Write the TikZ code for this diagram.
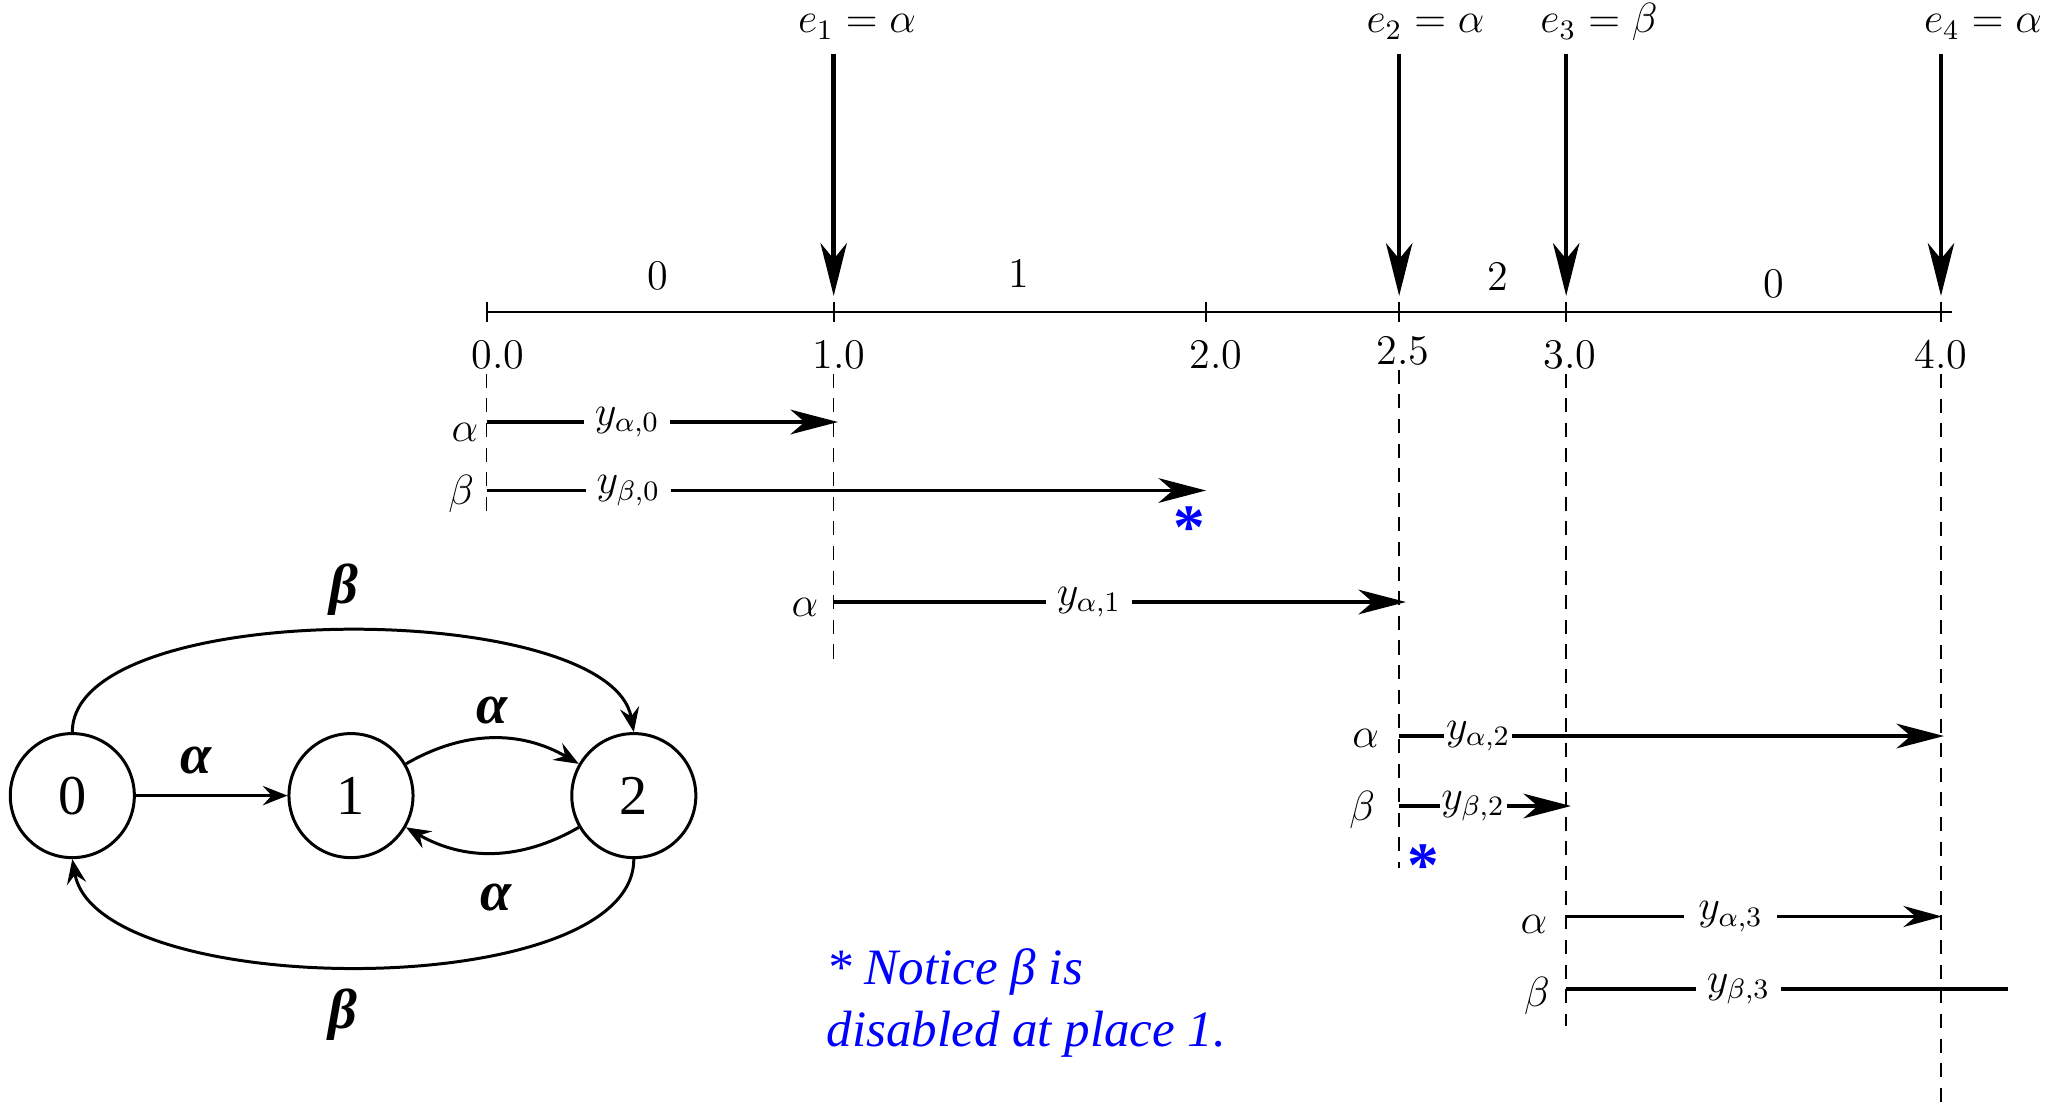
\documentclass[tikz,border=0pt]{standalone}
\usepackage{amsmath,amssymb}
\usepackage{fontspec}
\newfontfamily\timesfont{Liberation Serif}
\usetikzlibrary{arrows.meta,positioning,calc}

\begin{document}
\begin{tikzpicture}[
    x=0.01cm, y=0.01cm,
    lbl/.style={font=\fontsize{12}{14}\selectfont, inner sep=1pt},
    evlbl/.style={lbl, text height=8pt, text depth=3pt},
    rowlbl/.style={lbl, fill=white, inner xsep=3pt, inner ysep=1pt},
    sidelbl/.style={lbl, inner sep=0pt},
    axis/.style={draw, line width=0.6pt},
    event/.style={draw, line width=1.3pt, shorten <=1.7pt, shorten >=4.5pt, -{Stealth[length=15pt,width=7.5pt,inset=4.5pt]}},
    row/.style={draw, line width=1.1pt, -{Stealth[length=13.5pt,width=7pt,inset=4pt]}},
    thinrow/.style={draw, line width=0.6pt, -{Stealth[length=11pt,width=6pt,inset=3.5pt]}},
    guide/.style={draw, line width=0.45pt, dash pattern=on 4pt off 3pt},
    state/.style={circle, draw, line width=0.85pt, minimum size=1.24cm, inner sep=0pt, font=\timesfont\fontsize{16}{18}\selectfont},
    trans/.style={draw, line width=0.85pt, -{Stealth[length=7pt,width=5.5pt,inset=2.5pt]}},
    glbl/.style={inner sep=0pt, font=\timesfont\fontsize{16}{18}\selectfont\bfseries\itshape},
    star/.style={inner sep=0pt, text=blue, font=\timesfont\bfseries\fontsize{18}{18}\selectfont},
    note/.style={inner sep=0pt, anchor=north west, align=left, text=blue, font=\timesfont\itshape\fontsize{14.5}{17.5}\selectfont}
]
    \useasboundingbox (0,0) rectangle (2062,-1105);

    % time axis
    \coordinate (t0) at (486.6,-311.7);
    \coordinate (t1) at (833.7,-311.7);
    \coordinate (t2) at (1205.9,-311.7);
    \coordinate (t25) at (1399.2,-311.7);
    \coordinate (t3) at (1566.2,-311.7);
    \coordinate (t4) at (1941,-311.7);
    \coordinate (tend) at (1951.5,-311.7);
    \draw [axis] (t0) -- (tend);
    \foreach \tk in {t0,t1,t2,t25,t3,t4}
        \draw [axis] ($(\tk)+(0,10)$) -- ($(\tk)+(0,-10)$);

    \node [lbl] (v0) at (498,-355) {0.0};
    \node [lbl] (v1) at (839,-355) {1.0};
    \node [lbl] (v2) at (1216,-355) {2.0};
    \node [lbl] (v25) at (1403,-351) {2.5};
    \node [lbl] (v3) at (1570,-355) {3.0};
    \node [lbl] (v4) at (1941,-355) {4.0};

    % place between events
    \node [lbl] (p0) at (657.5,-276) {0};
    \node [lbl] (p1) at (1019,-273.5) {1};
    \node [lbl] (p2) at (1498,-276) {2};
    \node [lbl] (p3) at (1774,-284) {0};

    % events
    \node [evlbl] (e1) at (857,-24) {$e_1=\alpha$};
    \node [evlbl] (e2) at (1425.5,-24) {$e_2=\alpha$};
    \node [evlbl] (e3) at (1599,-24) {$e_3=\beta$};
    \node [evlbl] (e4) at (1983,-24) {$e_4=\alpha$};
    \draw [event] (e1.south -| t1) -- (t1);
    \draw [event] (e2.south -| t25) -- (t25);
    \draw [event] (e3.south -| t3) -- (t3);
    \draw [event] (e4.south -| t4) -- (t4);

    % dashed guides
    \coordinate (g0) at (486.6,-519);
    \coordinate (g1) at (833.7,-664);
    \coordinate (g25) at (1399.2,-868);
    \coordinate (g3) at (1566.2,-1026);
    \coordinate (g4) at (1941,-1105);
    \draw [guide] (v0.south -| t0) -- (g0);
    \draw [guide] (v1.south -| t1) -- (g1);
    \draw [guide] (v25.south -| t25) -- (g25);
    \draw [guide] (v3.south -| t3) -- (g3);
    \draw [guide] (v4.south -| t4) -- (g4);

    % clocks
    \coordinate (a0s) at (486.6,-422);   \coordinate (a0e) at (838,-422);
    \coordinate (b0s) at (486.6,-490.5); \coordinate (b0e) at (1206,-490.5);
    \coordinate (a1s) at (833.7,-602);   \coordinate (a1e) at (1406,-602);
    \coordinate (a2s) at (1399.2,-736);  \coordinate (a2e) at (1944,-736);
    \coordinate (b2s) at (1399.2,-806);  \coordinate (b2e) at (1571,-806);
    \coordinate (a3s) at (1566.2,-916.5);\coordinate (a3e) at (1942,-916.5);
    \coordinate (b3s) at (1566.2,-989);  \coordinate (b3e) at (2008,-989);

    \draw [row] (a0s) -- node [rowlbl, pos=.40] (ya0) {$y_{\alpha,0}$} (a0e);
    \draw [row] (b0s) -- node [rowlbl, pos=.197] (yb0) {$y_{\beta,0}$} (b0e);
    \draw [row] (a1s) -- node [rowlbl, pos=.446] (ya1) {$y_{\alpha,1}$} (a1e);
    \draw [row] (a2s) -- node [rowlbl, pos=.145, inner xsep=0.5pt] (ya2) {$y_{\alpha,2}$} (a2e);
    \draw [row] (b2s) -- node [rowlbl, pos=.43, inner xsep=0.5pt] (yb2) {$y_{\beta,2}$} (b2e);
    \draw [thinrow] (a3s) -- node [rowlbl, pos=.4375, inner xsep=4pt] (ya3) {$y_{\alpha,3}$} (a3e);
    \draw [row, -] (b3s) -- node [rowlbl, pos=.39] (yb3) {$y_{\beta,3}$} (b3e);

    \node [sidelbl, left=2.2pt of a0s, yshift=-3pt] (ca0) {$\alpha$};
    \node [sidelbl, left=3.4pt of b0s, yshift=-1pt] (cb0) {$\beta$};
    \node [sidelbl, left=4.2pt of a1s, yshift=-1.5pt] (ca1) {$\alpha$};
    \node [sidelbl, left=5.6pt of a2s, yshift=-0.7pt] (ca2) {$\alpha$};
    \node [sidelbl, left=6.7pt of b2s, yshift=-1pt] (cb2) {$\beta$};
    \node [sidelbl, left=5.2pt of a3s, yshift=-2.2pt] (ca3) {$\alpha$};
    \node [sidelbl, left=4.5pt of b3s, yshift=-1.9pt] (cb3) {$\beta$};

    \node [star] (st1) at (1189,-528) {*};
    \node [star] (st2) at (1423,-866) {*};

    \node [note] (remark) at (826,-948) {* Notice β is\\disabled at place 1.};

    % automaton
    \node [state] (s0) at (72.3,-795.6) {0};
    \node [state] (s1) at (351,-795.6) {1};
    \node [state] (s2) at (633.8,-795.6) {2};
    \draw [trans] (s0) -- node [glbl, pos=.4, above=5.7pt] (l01) {α} (s1);
    \draw [trans] (s1) to [bend left=30] node [glbl, above=3.6pt] (l12) {α} (s2);
    \draw [trans] (s2) to [bend left=30] node [glbl, below=8.5pt, xshift=1pt] (l21) {α} (s1);
    \draw [trans] (s0.north) to [out=90, in=100, looseness=.62] node [glbl, above=4pt] (l02) {β} (s2.north);
    \draw [trans] (s2.south) to [out=-90, in=-80, looseness=.66] node [glbl, below=6pt, xshift=-5.5pt] (l20) {β} (s0.south);
\end{tikzpicture}
\end{document}
